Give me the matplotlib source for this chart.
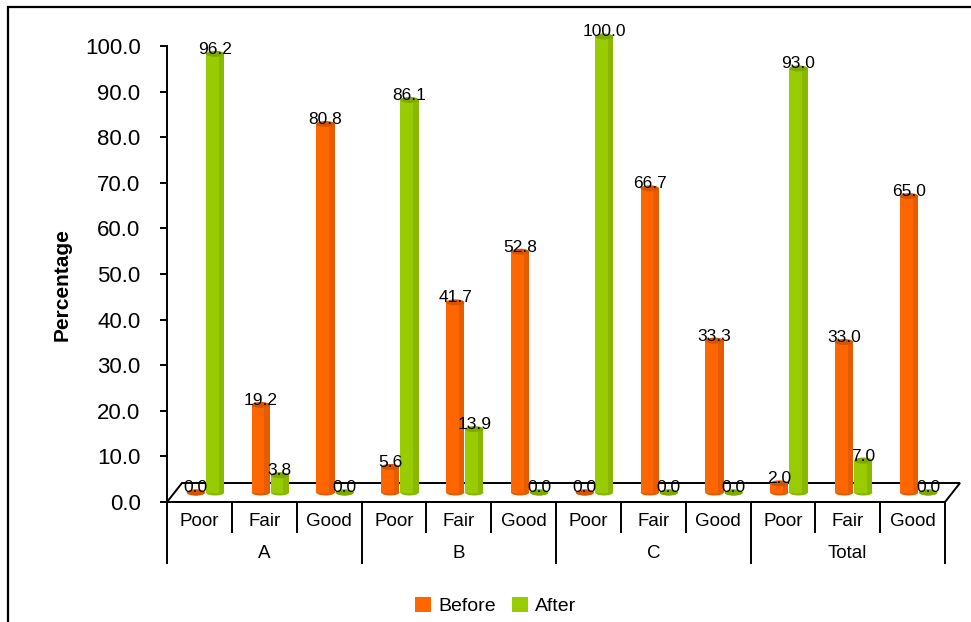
import matplotlib
matplotlib.use("Agg")
import matplotlib.pyplot as plt
from matplotlib.patches import Rectangle, Ellipse, Polygon
from matplotlib.lines import Line2D
from matplotlib.transforms import ScaledTranslation, blended_transform_factory

plt.rcParams['font.family'] = ['Liberation Sans', 'DejaVu Sans']

groups = ["A", "B", "C", "Total"]
levels = ["Poor", "Fair", "Good"]
before = [0.0, 19.2, 80.8, 5.6, 41.7, 52.8, 0.0, 66.7, 33.3, 2.0, 33.0, 65.0]
after = [96.2, 3.8, 0.0, 86.1, 13.9, 0.0, 100.0, 0.0, 0.0, 93.0, 7.0, 0.0]
series_names = ["Before", "After"]
yticks = [0, 10, 20, 30, 40, 50, 60, 70, 80, 90, 100]

W, H = 971, 622
DPI = 100
fig = plt.figure(figsize=(W / DPI, H / DPI), dpi=DPI)

# plot area in pixels
left_px, right_px, top_px, bottom_px = 167, 945, 46, 502
ax = fig.add_axes([left_px / W, 1 - bottom_px / H,
                   (right_px - left_px) / W, (bottom_px - top_px) / H])
ncat = len(before)
ax.set_xlim(0, ncat)
ax.set_ylim(0, 100)

px_x = (right_px - left_px) / ncat     # pixels per category
px_y = (bottom_px - top_px) / 100.0    # pixels per unit

# depth of the floor and mid-depth shift of the columns (pixels)
floor_dx, floor_dy = 15, 19
bar_dx, bar_dy = 7.5, 9.5
shift = ax.transData + ScaledTranslation(bar_dx / DPI, bar_dy / DPI, fig.dpi_scale_trans)

# floor (white parallelogram with black edges)
fdx = floor_dx / px_x
fdy = floor_dy / px_y
floor = Polygon([(0, 0), (ncat, 0), (ncat + fdx, fdy), (fdx, fdy)], closed=True,
                facecolor='white', edgecolor='black', lw=1.4, clip_on=False, zorder=1)
ax.add_patch(floor)

colors = {
    "Before": ("#FF6600", "#E65C00", "#D45500"),
    "After": ("#99CC00", "#88B800", "#7FA800"),
}
offsets = {"Before": 0.33, "After": 0.625}
bw = 0.28
eh = 6 / px_y  # ellipse height in data units

for name, vals in (("Before", before), ("After", after)):
    main, dark, topc = colors[name]
    for i, v in enumerate(vals):
        xc = i + offsets[name]
        z = 3
        ax.add_patch(Ellipse((xc, 0), bw, eh, facecolor=dark, edgecolor='none',
                             transform=shift, clip_on=False, zorder=z))
        if v > 0:
            ax.add_patch(Rectangle((xc - bw / 2, 0), bw, v, facecolor=main,
                                   edgecolor='none', transform=shift,
                                   clip_on=False, zorder=z))
            ax.add_patch(Rectangle((xc + bw / 2 - bw * 0.3, 0), bw * 0.3, v,
                                   facecolor=dark, edgecolor='none',
                                   transform=shift, clip_on=False, zorder=z))
        ax.add_patch(Ellipse((xc, v), bw, eh, facecolor=topc, edgecolor='none',
                             transform=shift, clip_on=False, zorder=z + 0.1))
        ax.text(xc, v, f"{v:.1f}", transform=shift, ha='center', va='baseline',
                fontsize=12.5, color='black', zorder=5, clip_on=False)

# axes styling
for s in ('top', 'right'):
    ax.spines[s].set_visible(False)
ax.spines['left'].set_linewidth(1.4)
ax.spines['bottom'].set_linewidth(1.4)
ax.spines['bottom'].set_zorder(6)
ax.set_yticks(yticks)
ax.set_yticklabels([f"{t:.1f}" for t in yticks], fontsize=16)
ax.tick_params(axis='y', length=5, width=1.4, pad=14)
ax.set_xticks([])
ax.patch.set_alpha(0)

# two-level category axis
bt = blended_transform_factory(ax.transData, ax.transAxes)
short = 30 / (bottom_px - top_px)
long_ = 61 / (bottom_px - top_px)
for k in range(ncat + 1):
    depth = long_ if k % 3 == 0 else short
    ax.add_line(Line2D([k, k], [0, -depth], color='black', lw=1.4,
                       transform=bt, clip_on=False))
for i in range(ncat):
    ax.text(i + 0.5, -19 / (bottom_px - top_px), levels[i % 3], transform=bt,
            ha='center', va='center', fontsize=13.5)
for g, name in enumerate(groups):
    ax.text(g * 3 + 1.5, -51 / (bottom_px - top_px), name, transform=bt,
            ha='center', va='center', fontsize=13.5)

fig.text(62 / W, 1 - 285 / H, "Percentage", rotation=90, ha='center', va='center',
         fontsize=15, fontweight='bold')

handles = [Rectangle((0, 0), 1, 1, facecolor=colors[n][0], edgecolor='none')
           for n in series_names]
fig.legend(handles, series_names, loc='center', bbox_to_anchor=(496 / W, 1 - 606 / H),
           ncol=2, frameon=False, fontsize=14, handlelength=0.8, handleheight=0.8,
           handletextpad=0.4, columnspacing=0.8)

# outer chart frame (only top and left edges fall inside the image)
fig.add_artist(Rectangle((8 / W, -0.1), 1.2, (H - 7) / H + 0.1,
                         transform=fig.transFigure, fill=False, lw=1.6,
                         edgecolor='black'))

fig.savefig("out.png", dpi=DPI)
